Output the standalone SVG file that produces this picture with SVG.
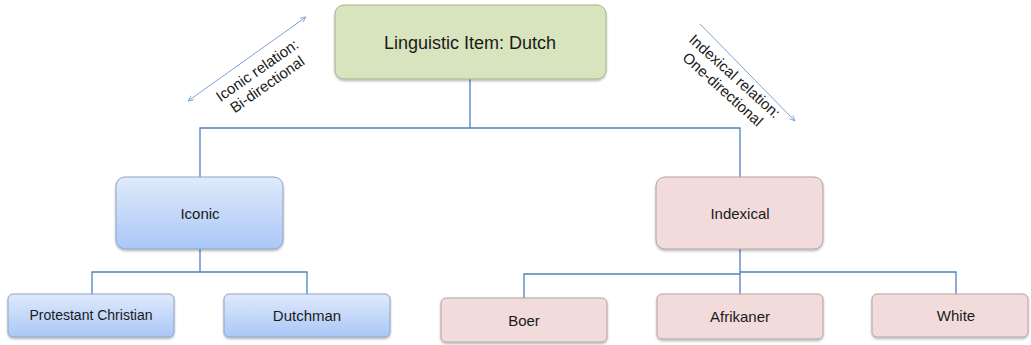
<svg xmlns="http://www.w3.org/2000/svg" width="1031" height="345" viewBox="0 0 1031 345">
  <style>
    .lbl { font-family: "Liberation Sans", Arial, sans-serif; fill: #1a1a1a; text-anchor: middle; dominant-baseline: central; }
    .conn { fill: none; stroke: #4f81bd; stroke-width: 1.3; }
    .rel { fill: none; stroke: #7ea3d8; stroke-width: 1; }
    .green { fill: #d8e4bd; stroke: #a6b38c; stroke-width: 1; filter: url(#shadow); }
    .blue { fill: url(#blueGrad); stroke: #8ea4c4; stroke-width: 1; filter: url(#shadow); }
    .pink { fill: #f2dcdb; stroke: #b3a3a3; stroke-width: 1; filter: url(#shadow); }
  </style>
  <defs>
    <linearGradient id="blueGrad" x1="0" y1="0" x2="0" y2="1">
      <stop offset="0" stop-color="#e0eafb"/>
      <stop offset="1" stop-color="#a9c7f7"/>
    </linearGradient>
    <filter id="shadow" x="-10%" y="-10%" width="120%" height="130%">
      <feDropShadow dx="0" dy="1.5" stdDeviation="1.2" flood-color="#000" flood-opacity="0.3"/>
    </filter>
    <marker id="tip" viewBox="0 0 10 10" refX="9" refY="5" markerWidth="7" markerHeight="7" orient="auto-start-reverse">
      <path d="M1,1.5 L9,5 L1,8.5" fill="none" stroke="#7ea3d8" stroke-width="1.2"/>
    </marker>
  </defs>

  <!-- tree connectors -->
  <g id="connectors">
    <path class="conn" d="M470,79 V128 M200,177 V128 H740 V177"/>
    <path class="conn" d="M200,249 V272 M92,294 V272 H307 V294"/>
    <path class="conn" d="M740,249 V294 M524,298 V274 H740 M740,272 H956 V294"/>
  </g>

  <!-- relation arrows with their labels -->
  <g id="iconic-relation">
    <line class="rel" x1="188" y1="101" x2="306" y2="17" marker-start="url(#tip)" marker-end="url(#tip)"/>
    <text class="lbl" font-size="15" transform="translate(257,70) rotate(-35)">Iconic relation:</text>
    <text class="lbl" font-size="15" transform="translate(267,84) rotate(-35)">Bi-directional</text>
  </g>
  <g id="indexical-relation">
    <line class="rel" x1="700" y1="24" x2="795" y2="121" marker-end="url(#tip)"/>
    <text class="lbl" font-size="15" transform="translate(735,76) rotate(42)">Indexical relation:</text>
    <text class="lbl" font-size="15" transform="translate(723,89) rotate(42)">One-directional</text>
  </g>

  <!-- nodes -->
  <g id="node-dutch">
    <rect class="green" x="335" y="5" width="271" height="74" rx="9"/>
    <text class="lbl" x="470" y="43" font-size="18">Linguistic Item: Dutch</text>
  </g>
  <g id="node-iconic">
    <rect class="blue" x="116" y="177" width="167" height="72" rx="9"/>
    <text class="lbl" x="200" y="213" font-size="15">Iconic</text>
  </g>
  <g id="node-indexical">
    <rect class="pink" x="656" y="177" width="167" height="72" rx="9"/>
    <text class="lbl" x="740" y="213" font-size="15">Indexical</text>
  </g>
  <g id="node-protestant">
    <rect class="blue" x="8" y="294" width="166" height="43" rx="5"/>
    <text class="lbl" x="91" y="315" font-size="14">Protestant Christian</text>
  </g>
  <g id="node-dutchman">
    <rect class="blue" x="224" y="294" width="166" height="43" rx="5"/>
    <text class="lbl" x="307" y="315" font-size="15">Dutchman</text>
  </g>
  <g id="node-boer">
    <rect class="pink" x="441" y="298" width="166" height="44" rx="5"/>
    <text class="lbl" x="524" y="320" font-size="15">Boer</text>
  </g>
  <g id="node-afrikaner">
    <rect class="pink" x="657" y="294" width="166" height="45" rx="5"/>
    <text class="lbl" x="740" y="316" font-size="15">Afrikaner</text>
  </g>
  <g id="node-white">
    <rect class="pink" x="872" y="294" width="156" height="43" rx="5"/>
    <text class="lbl" x="956" y="315" font-size="15">White</text>
  </g>
</svg>
